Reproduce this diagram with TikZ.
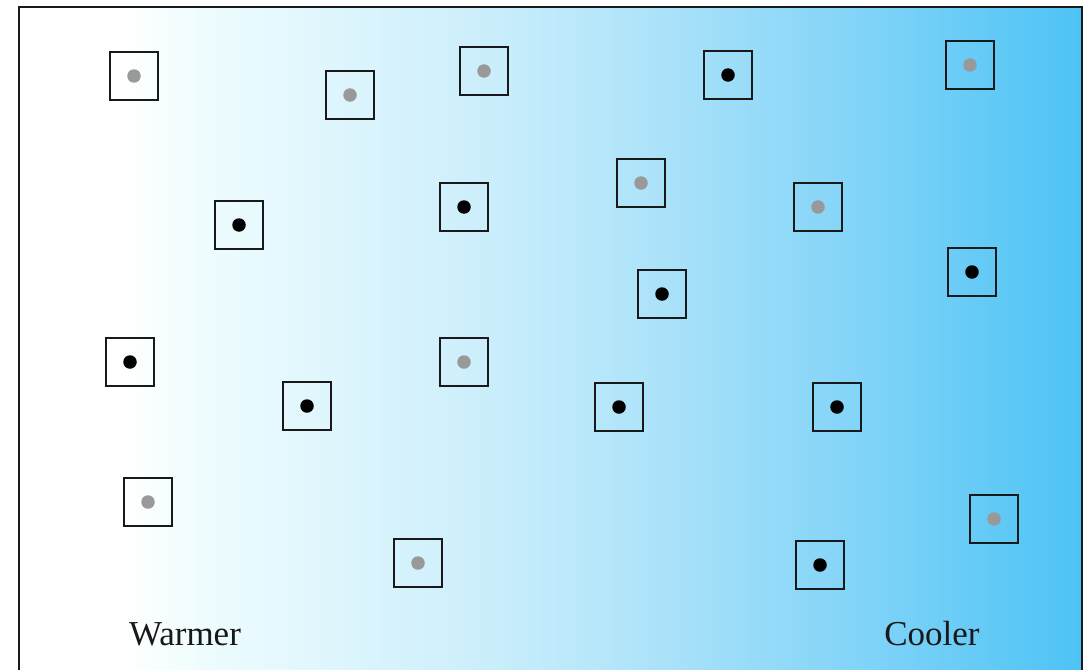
\documentclass[tikz,border=0pt]{standalone}
\usepackage{fontspec}
\setmainfont{Liberation Serif}
\definecolor{c0}{HTML}{FFFFFF}
\definecolor{c1}{HTML}{EDFCFE}
\definecolor{c2}{HTML}{DCF5FD}
\definecolor{c3}{HTML}{CBEEFB}
\definecolor{c4}{HTML}{B2E5FA}
\definecolor{c5}{HTML}{A3DFF9}
\definecolor{c6}{HTML}{80D3F8}
\definecolor{c7}{HTML}{4DC3F5}
\definecolor{graydot}{HTML}{999999}
\pgfdeclarehorizontalshading{warmcool}{100bp}{color(0bp)=(c0); color(29.75bp)=(c0); color(34bp)=(c1); color(40.6bp)=(c2); color(47bp)=(c3); color(53.5bp)=(c4); color(57bp)=(c5); color(64.9bp)=(c6); color(75bp)=(c7); color(100bp)=(c7)}
\tikzset{
  cell/.style={draw=black!90, line width=1.6pt, minimum size=48pt, inner sep=0pt},
  gdot/.style={circle, fill=graydot, minimum size=13.5pt, inner sep=0pt},
  bdot/.style={circle, fill=black, minimum size=13.5pt, inner sep=0pt},
  lbl/.style={font=\fontsize{35}{40}\selectfont, text=black!90}
}
\newcommand{\cellg}[3]{\node[cell] (#1) at (#2,#3) {}; \node[gdot] (#1d) at (#1.center) {};}
\newcommand{\cellb}[3]{\node[cell] (#1) at (#2,#3) {}; \node[bdot] (#1d) at (#1.center) {};}
\begin{document}
\begin{tikzpicture}[x=1pt,y=-1pt]
\useasboundingbox (0,0) rectangle (1089,669);
\begin{scope}
\clip (0,0) rectangle (1089,669);
\shade[shading=warmcool] (19,7) rectangle (1082,680);
\draw[line width=2pt, black!90] (19,680) -- (19,7) -- (1082,7) -- (1082,680);
\end{scope}
\cellg{a1}{134}{76}
\cellg{a2}{350}{95}
\cellg{a3}{484}{71}
\cellb{a4}{728}{75}
\cellg{a5}{970}{65}
\cellb{b1}{239}{225}
\cellb{b2}{464}{207}
\cellg{b3}{641}{183}
\cellg{b4}{818}{207}
\cellb{b5}{972}{272}
\cellb{b6}{662}{294}
\cellb{c1}{130}{362}
\cellg{c2}{464}{362}
\cellb{c3}{307}{406}
\cellb{c4}{619}{407}
\cellb{c5}{837}{407}
\cellg{d1}{148}{502}
\cellg{d2}{418}{563}
\cellb{d3}{820}{565}
\cellg{d4}{994}{519}
\node[lbl] (warm) at (185,634) {Warmer};
\node[lbl] (cool) at (932,634) {Cooler};
\end{tikzpicture}
\end{document}
